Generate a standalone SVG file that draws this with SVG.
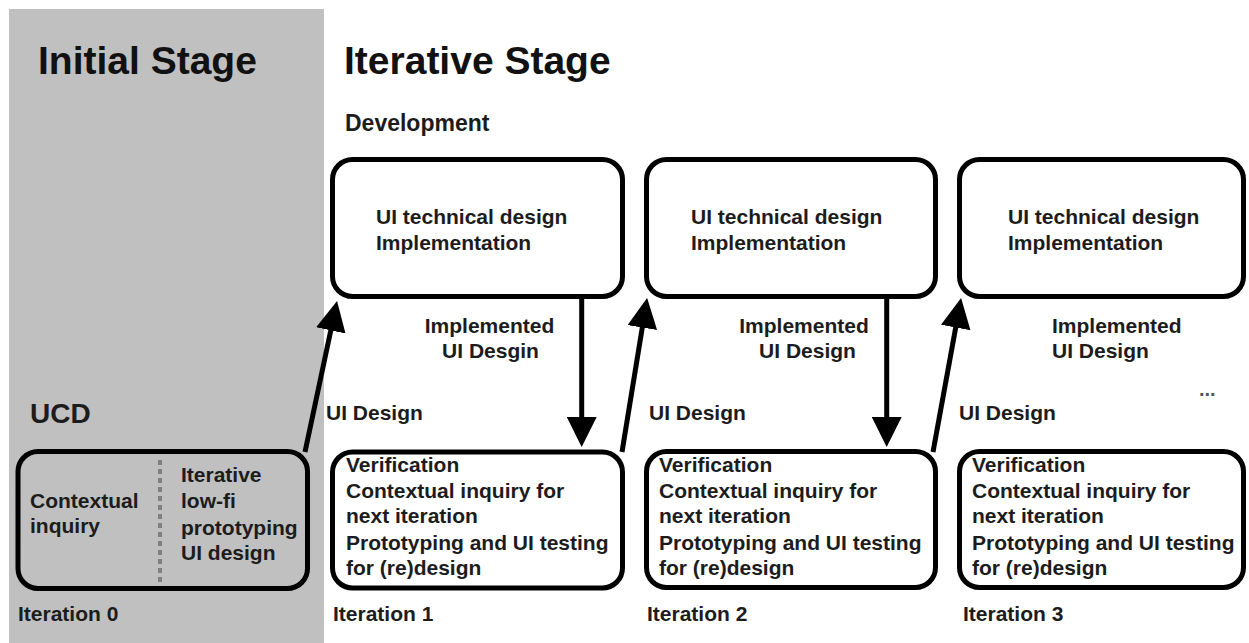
<svg xmlns="http://www.w3.org/2000/svg" width="1249" height="643" viewBox="0 0 1249 643">
<style>
text{font-family:"Liberation Sans",Arial,sans-serif;font-weight:bold;fill:#1c1c1c}
.title{font-size:39px;fill:#111}
.sub{font-size:23px}
.t{font-size:21px}
.ucd{font-size:28px}
.box{fill:#fff;stroke:#000;stroke-width:5}
.gbox{fill:#c0c0c0;stroke:#000;stroke-width:5}
.conn{stroke:#000;stroke-width:5;fill:none}
.mid{text-anchor:middle}
</style>
<defs>
<marker id="ah" viewBox="0 0 30 30" markerUnits="userSpaceOnUse" markerWidth="30" markerHeight="30" refX="10" refY="15" orient="auto">
<path d="M0,0 L30,15 L0,30 z" fill="#000"/>
</marker>
</defs>
<rect x="9" y="9" width="315" height="634" fill="#c0c0c0"/>
<text class="title" x="38" y="74">Initial Stage</text>
<text class="title" x="344" y="74">Iterative Stage</text>
<text class="sub" x="345" y="131">Development</text>
<text class="ucd" x="30" y="423">UCD</text>

<g id="ucd-box">
<rect class="gbox" x="18" y="451.5" width="289.5" height="137" rx="20"/>
<line x1="160" y1="460" x2="160" y2="582" stroke="#808080" stroke-width="4" stroke-dasharray="5 4"/>
<text class="t" x="30" y="508">Contextual</text>
<text class="t" x="30" y="533">inquiry</text>
<text class="t" x="181" y="482">Iterative</text>
<text class="t" x="181" y="508">low-fi</text>
<text class="t" x="181" y="535">prototyping</text>
<text class="t" x="181" y="560">UI design</text>
</g>
<text class="t" x="18" y="621">Iteration 0</text>

<g id="dev1">
<rect class="box" x="332.5" y="159.5" width="290" height="137" rx="20"/>
<text class="t" x="376" y="224">UI technical design</text>
<text class="t" x="376" y="250">Implementation</text>
</g>
<g id="dev2">
<rect class="box" x="646.5" y="159.5" width="289" height="137" rx="20"/>
<text class="t" x="691" y="224">UI technical design</text>
<text class="t" x="691" y="250">Implementation</text>
</g>
<g id="dev3">
<rect class="box" x="959.5" y="159.5" width="284" height="137" rx="20"/>
<text class="t" x="1008" y="224">UI technical design</text>
<text class="t" x="1008" y="250">Implementation</text>
</g>

<g id="ver1">
<rect class="box" x="332.5" y="452" width="290" height="136" rx="20"/>
<text class="t" x="346" y="472">Verification</text>
<text class="t" x="346" y="498">Contextual inquiry for</text>
<text class="t" x="346" y="523">next iteration</text>
<text class="t" x="346" y="550">Prototyping and UI testing</text>
<text class="t" x="346" y="575">for (re)design</text>
</g>
<g id="ver2">
<rect class="box" x="646.5" y="451.5" width="289" height="136" rx="20"/>
<text class="t" x="659" y="472">Verification</text>
<text class="t" x="659" y="498">Contextual inquiry for</text>
<text class="t" x="659" y="523">next iteration</text>
<text class="t" x="659" y="550">Prototyping and UI testing</text>
<text class="t" x="659" y="575">for (re)design</text>
</g>
<g id="ver3">
<rect class="box" x="959.5" y="451.5" width="284" height="136" rx="20"/>
<text class="t" x="972" y="472">Verification</text>
<text class="t" x="972" y="498">Contextual inquiry for</text>
<text class="t" x="972" y="523">next iteration</text>
<text class="t" x="972" y="550">Prototyping and UI testing</text>
<text class="t" x="972" y="575">for (re)design</text>
</g>

<text class="t" x="333" y="621">Iteration 1</text>
<text class="t" x="647" y="621">Iteration 2</text>
<text class="t" x="963" y="621">Iteration 3</text>

<g id="connectors">
<line class="conn" x1="305" y1="452" x2="332.9" y2="320.6" marker-end="url(#ah)"/>
<line class="conn" x1="622" y1="452" x2="643.9" y2="317.7" marker-end="url(#ah)"/>
<line class="conn" x1="933" y1="452" x2="957.5" y2="317.7" marker-end="url(#ah)"/>
<line class="conn" x1="581.7" y1="299" x2="581.7" y2="427" marker-end="url(#ah)"/>
<line class="conn" x1="886.7" y1="299" x2="886.7" y2="427" marker-end="url(#ah)"/>
</g>

<g id="labels">
<text class="t mid" x="489.5" y="333">Implemented</text>
<text class="t mid" x="490.5" y="358">UI Desgin</text>
<text class="t mid" x="804" y="333">Implemented</text>
<text class="t mid" x="807.5" y="358">UI Design</text>
<text class="t" x="1052" y="333">Implemented</text>
<text class="t" x="1052" y="358">UI Design</text>
<text class="t" x="326" y="420">UI Design</text>
<text class="t" x="649" y="420">UI Design</text>
<text class="t" x="959" y="420">UI Design</text>
<text x="1199" y="396" style="font-size:20px;fill:#555">...</text>
</g>
</svg>
